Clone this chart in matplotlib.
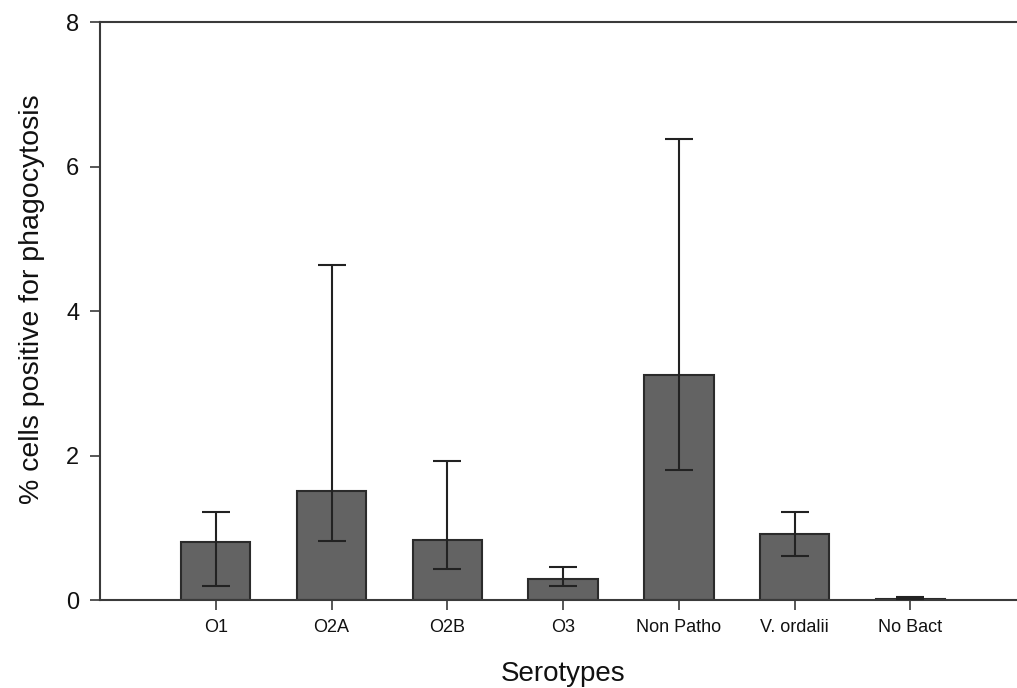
import matplotlib.pyplot as plt
import numpy as np

plt.rcParams['font.family'] = ['Liberation Sans', 'DejaVu Sans']

serotypes = ['O1', 'O2A', 'O2B', 'O3', 'Non Patho', 'V. ordalii', 'No Bact']
means = [0.81, 1.51, 0.83, 0.29, 3.11, 0.92, 0.02]
upper = [1.22, 4.64, 1.92, 0.46, 6.38, 1.22, 0.04]
lower = [0.20, 0.82, 0.43, 0.19, 1.80, 0.61, 0.01]

means = np.array(means)
err_lo = means - np.array(lower)
err_hi = np.array(upper) - means

x = np.arange(len(serotypes))
line_col = '#3a3a3a'

fig = plt.figure(figsize=(10.17, 6.88), dpi=100)
ax = fig.add_axes([0.0983, 0.1279, 1.009 - 0.0983, 0.9674 - 0.1279])

ax.bar(x, means, width=0.6, color='#636363', edgecolor='#2b2b2b', linewidth=1.5, zorder=2)
ax.errorbar(x, means, yerr=[err_lo, err_hi], fmt='none', ecolor='#222222',
            elinewidth=1.5, capsize=10, capthick=1.5, zorder=3)

ax.set_xlim(-1.0, 7.0)
ax.set_ylim(0, 8)
ax.set_yticks([0, 2, 4, 6, 8])
ax.set_xticks(x)
ax.set_xticklabels(serotypes)

ax.spines['right'].set_visible(False)
for s in ['left', 'bottom', 'top']:
    ax.spines[s].set_color(line_col)
    ax.spines[s].set_linewidth(1.5)

ax.tick_params(axis='y', length=7, width=1.2, color=line_col, pad=8, labelsize=17, labelcolor='#111111')
ax.tick_params(axis='x', length=7, width=1.2, color=line_col, pad=7, labelsize=13, labelcolor='#111111')

ax.set_xlabel('Serotypes', fontsize=20, labelpad=18, color='#111111')
ax.set_ylabel('% cells positive for phagocytosis', fontsize=20.5, color='#111111')
ax.yaxis.set_label_coords(-0.059, 0.52)

fig.savefig('out.png', dpi=100)
